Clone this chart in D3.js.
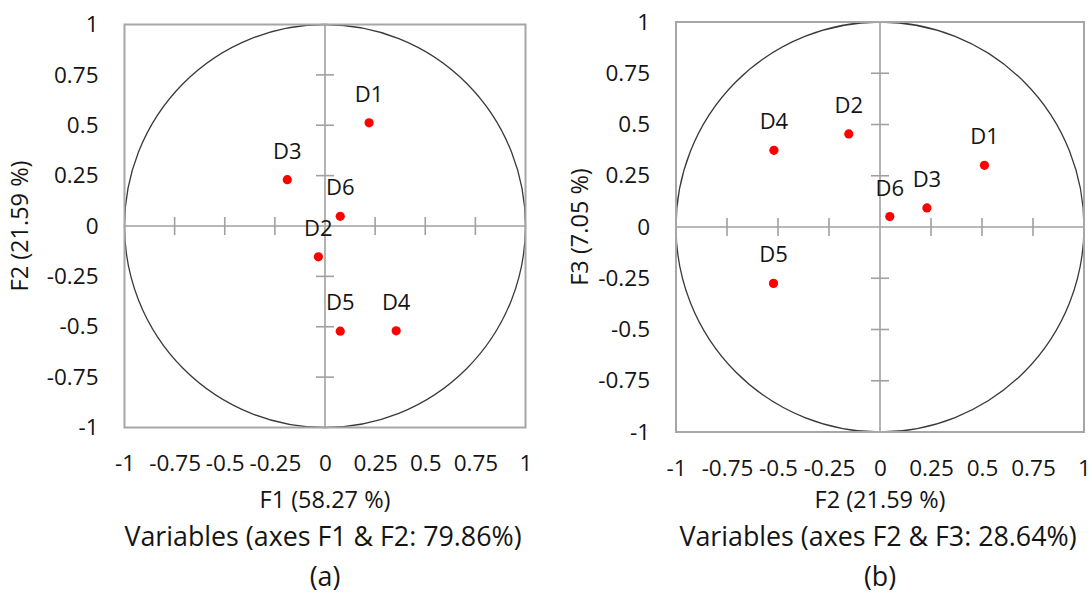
<!DOCTYPE html>
<html>
<head>
<meta charset="utf-8">
<script src="https://cdn.jsdelivr.net/npm/d3@7"></script>
<style>
  body { margin: 0; background: #fff; }
  svg text { font-family: "Open Sans", sans-serif; fill: #141414; }
</style>
</head>
<body>
<svg width="1092" height="596"></svg>
<script>
// variable loadings on the factors
var names = ["D1", "D2", "D3", "D4", "D5", "D6"];
var f1 = [0.22, -0.033, -0.188, 0.355, 0.076, 0.076];
var f2 = [0.512, -0.153, 0.23, -0.52, -0.522, 0.048];
var f3 = [0.301, 0.454, 0.093, 0.374, -0.275, 0.051];

var tickVals = [-1, -0.75, -0.5, -0.25, 0, 0.25, 0.5, 0.75, 1];
var panels = [
  {xs: f1, ys: f2, xTitle: "F1 (58.27 %)", yTitle: "F2 (21.59 %)",
   title: "Variables (axes F1 & F2: 79.86%)", tag: "(a)"},
  {xs: f2, ys: f3, xTitle: "F2 (21.59 %)", yTitle: "F3 (7.05 %)",
   title: "Variables (axes F2 & F3: 28.64%)", tag: "(b)"}
];
// plot boxes
var boxes = [
  {x0: 124.5, x1: 525.5, y0: 24.5, y1: 427.5, yTitleX: 20},
  {x0: 676, x1: 1084, y0: 22, y1: 432, yTitleX: 580}
];

var svg = d3.select("svg");
var fmt = function(d) { return String(d); };

panels.forEach(function(p, i) {
  var b = boxes[i];
  var x = d3.scaleLinear().domain([-1, 1]).range([b.x0, b.x1]);
  var y = d3.scaleLinear().domain([-1, 1]).range([b.y1, b.y0]);
  var g = svg.append("g");

  // zero axes
  g.append("line").attr("x1", x(-1)).attr("x2", x(1))
    .attr("y1", y(0)).attr("y2", y(0))
    .attr("stroke", "#a0a0a0").attr("stroke-width", 1.6);
  g.append("line").attr("x1", x(0)).attr("x2", x(0))
    .attr("y1", y(-1)).attr("y2", y(1))
    .attr("stroke", "#a0a0a0").attr("stroke-width", 1.6);

  // cross ticks on the zero axes
  var inner = tickVals.filter(function(d) { return d != 0 && Math.abs(d) != 1; });
  g.selectAll(".xt").data(inner).enter().append("line")
    .attr("x1", function(d) { return x(d); }).attr("x2", function(d) { return x(d); })
    .attr("y1", y(0) - 9).attr("y2", y(0) + 9)
    .attr("stroke", "#a0a0a0").attr("stroke-width", 1.6);
  g.selectAll(".yt").data(inner).enter().append("line")
    .attr("y1", function(d) { return y(d); }).attr("y2", function(d) { return y(d); })
    .attr("x1", x(0) - 9).attr("x2", x(0) + 9)
    .attr("stroke", "#a0a0a0").attr("stroke-width", 1.6);

  // unit circle
  g.append("ellipse")
    .attr("cx", x(0)).attr("cy", y(0))
    .attr("rx", (x(1) - x(-1)) / 2).attr("ry", (y(-1) - y(1)) / 2)
    .attr("fill", "none").attr("stroke", "#3a3a3a").attr("stroke-width", 1.3);

  // frame
  g.append("rect")
    .attr("x", b.x0).attr("y", b.y0)
    .attr("width", b.x1 - b.x0).attr("height", b.y1 - b.y0)
    .attr("fill", "none").attr("stroke", "#a6a6a6").attr("stroke-width", 2);

  // tick labels
  var xa = g.append("g").attr("transform", "translate(0," + b.y1 + ")")
    .call(d3.axisBottom(x).tickValues(tickVals).tickFormat(fmt).tickSize(0).tickPadding(28));
  var ya = g.append("g").attr("transform", "translate(" + b.x0 + ",0)")
    .call(d3.axisLeft(y).tickValues(tickVals).tickFormat(fmt).tickSize(0).tickPadding(26));
  [xa, ya].forEach(function(a) {
    a.select(".domain").remove();
    a.selectAll("text").attr("font-size", 22.5).attr("font-family", null).attr("fill", "#141414");
  });

  // points and labels
  var pts = g.selectAll(".pt").data(names).enter().append("g");
  pts.append("circle")
    .attr("cx", function(d, k) { return x(p.xs[k]); })
    .attr("cy", function(d, k) { return y(p.ys[k]); })
    .attr("r", 4.6).attr("fill", "#ff0000");
  pts.append("text")
    .attr("x", function(d, k) { return x(p.xs[k]); })
    .attr("y", function(d, k) { return y(p.ys[k]) - 21; })
    .attr("text-anchor", "middle").attr("font-size", 22)
    .text(function(d) { return d; });

  var cx = (b.x0 + b.x1) / 2;
  // axis titles
  g.append("text").attr("x", cx).attr("y", 508)
    .attr("text-anchor", "middle").attr("font-size", 23.5).text(p.xTitle);
  g.append("text")
    .attr("transform", "translate(" + b.yTitleX + "," + y(0) + ") rotate(-90)")
    .attr("dy", "0.35em").attr("text-anchor", "middle").attr("font-size", 23.5)
    .text(p.yTitle);
  // panel captions
  g.append("text").attr("x", cx - 2).attr("y", 546)
    .attr("text-anchor", "middle").attr("font-size", 26.8).text(p.title);
  g.append("text").attr("x", cx).attr("y", 586)
    .attr("text-anchor", "middle").attr("font-size", 26.8).text(p.tag);
});
</script>
</body>
</html>
